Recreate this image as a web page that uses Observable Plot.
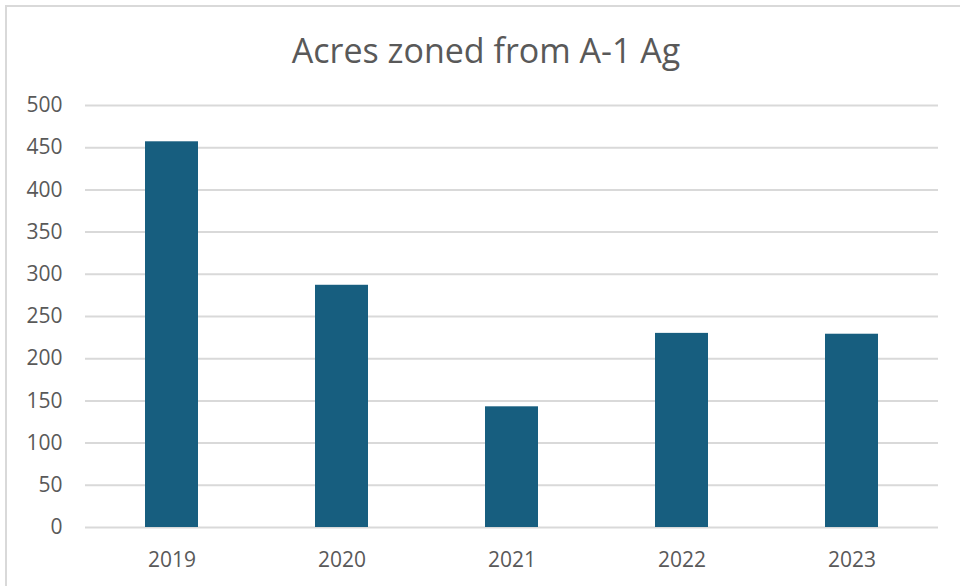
<!DOCTYPE html>
<html>
<head>
<meta charset="utf-8">
<script src="https://cdn.jsdelivr.net/npm/d3@7"></script>
<script src="https://cdn.jsdelivr.net/npm/@observablehq/plot@0.6"></script>
<style>
  html, body { margin: 0; padding: 0; background: #fff; width: 960px; height: 586px; overflow: hidden; }
  #frame { position: absolute; left: 5px; top: 5px; width: 1000px; height: 700px; border-left: 2px solid #d9d9d9; border-top: 2px solid #d9d9d9; }
  #title { position: absolute; left: 0; width: 972px; top: 27px; text-align: center; font-family: "Open Sans", sans-serif; font-size: 34px; color: #595959; line-height: 46px; }
  #chart { position: absolute; left: 0; top: 80px; }
</style>
</head>
<body>
<div id="frame"></div>
<div id="title">Acres zoned from A-1 Ag</div>
<div id="chart"></div>
<script>
const years = ["2019", "2020", "2021", "2022", "2023"];
const acres = [457, 287, 143, 230, 229];
const yTicks = [0, 50, 100, 150, 200, 250, 300, 350, 400, 450, 500];

const data = years.map((y, i) => ({year: y, value: acres[i]}));

const chart = Plot.plot({
  width: 960,
  height: 506,
  marginTop: 25,
  marginBottom: 59,
  marginLeft: 85,
  marginRight: 22,
  style: {fontFamily: "'Open Sans', sans-serif", fontSize: "21px", color: "#595959", background: "transparent"},
  x: {domain: years, paddingInner: 0.69, paddingOuter: 0.345, label: null},
  y: {domain: [0, 500], label: null},
  marks: [
    Plot.ruleY(yTicks, {stroke: "#d9d9d9", strokeWidth: 2}),
    Plot.barY(data, {x: "year", y: "value", fill: "#175e7f"}),
    Plot.axisX({tickSize: 0, tickPadding: 25, fontSize: 21, fill: "#595959", label: null}),
    Plot.axisY({ticks: yTicks, tickSize: 0, tickPadding: 23, fontSize: 21, fill: "#595959", label: null})
  ]
});
document.getElementById("chart").appendChild(chart);
</script>
</body>
</html>
